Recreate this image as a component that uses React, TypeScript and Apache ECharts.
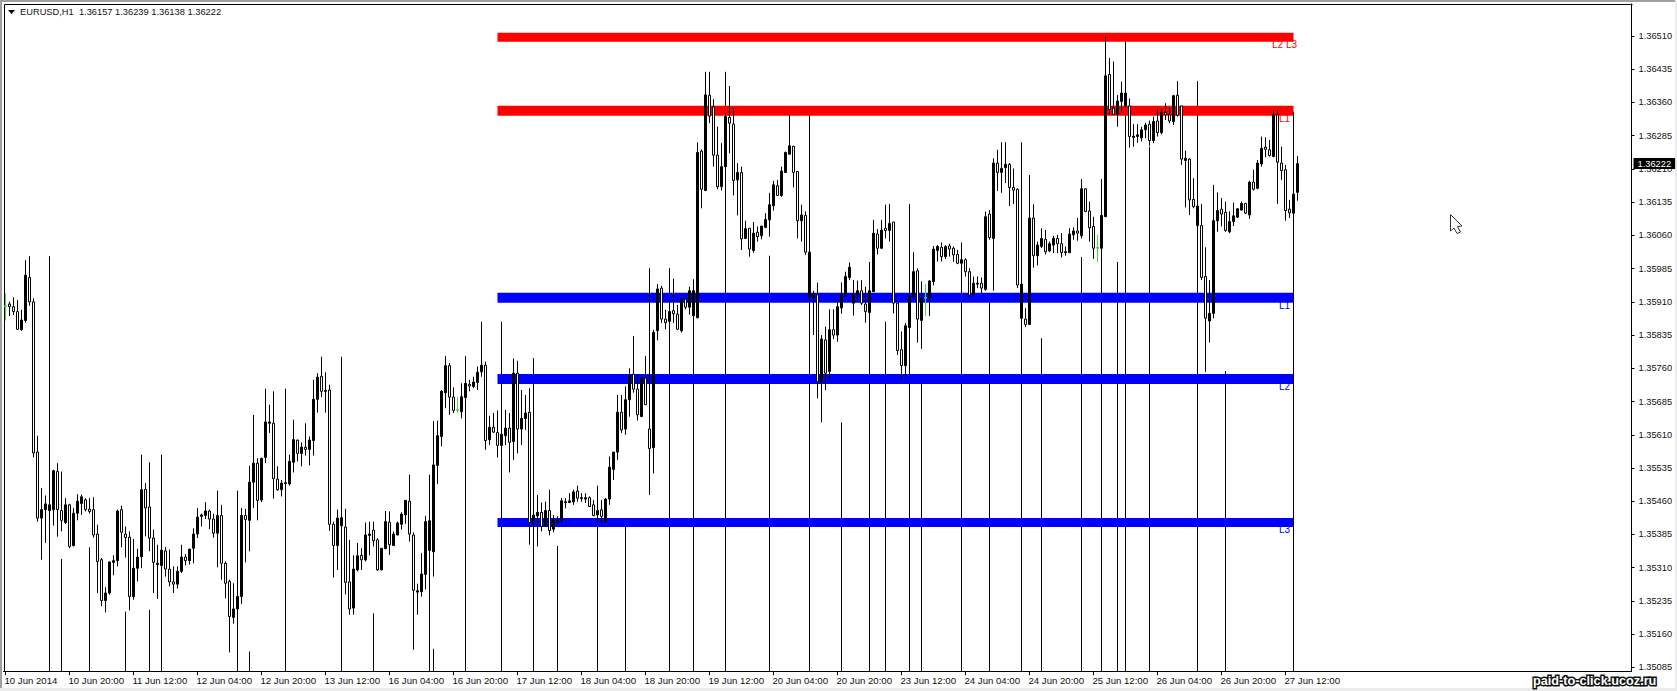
import React, { useEffect, useRef } from "react";
import * as echarts from "echarts";

// All prices are stored as pipettes above 1.00000 (36222 = 1.36222).
const opens = [
35899,35905,35899,35888,35847,35868,35965,35910,
35571,35422,35441,35439,35441,35527,35439,35412,
35452,35360,35433,35455,35463,35442,35441,35386,
35328,35236,35253,35322,35326,35441,35386,35379,
35245,35309,35335,35487,35447,35377,35317,35315,
35348,35307,35278,35273,35302,35334,35326,35354,
35386,35426,35428,35438,35420,35388,35428,35320,
35279,35198,35217,35245,35428,35417,35503,35546,
35463,35559,35636,35636,35510,35486,35500,35499,
35548,35598,35568,35582,35577,35597,35690,35742,
35708,35711,35408,35360,35405,35402,35278,35219,
35305,35338,35328,35383,35395,35373,35305,35353,
35413,35360,35384,35408,35429,35460,35384,35255,
35256,35295,35349,35346,35541,35606,35705,35766,
35695,35667,35662,35694,35724,35719,35728,35752,
35767,35599,35627,35615,35586,35608,35625,35595,
35749,35623,35647,35661,35412,35427,35435,35405,
35439,35397,35414,35418,35457,35457,35459,35483,
35466,35465,35468,35452,35429,35441,35414,35465,
35532,35571,35661,35623,35689,35747,35713,35651,
35738,35623,35581,35845,35941,35871,35866,35890,
35882,35845,35916,35898,35879,35874,36250,36161,
36376,36350,36241,36170,36215,36326,36311,36185,
36202,36053,36076,36026,36067,36059,36078,36095,
36127,36172,36150,36202,36243,36261,36204,36093,
36105,35922,35918,35926,35730,35824,35753,35847,
35835,35896,35926,35965,35907,35926,35935,35905,
35886,35933,36063,36031,36076,36071,36090,35907,
35802,35766,35852,35922,35980,35868,35920,35918,
35956,36026,36033,36012,36036,36031,36017,35997,
36005,35978,35926,35950,35952,35938,36108,36053,
36223,36202,36213,36220,36168,36164,35873,35871,
35859,36099,36014,36035,36051,36025,36038,36053,
36041,36021,36021,36061,36070,36059,36165,36115,
36080,36033,36031,36102,36423,36347,36333,36362,
36352,36352,36281,36283,36280,36298,36311,36274,
36318,36292,36337,36332,36317,36376,36352,36229,
36232,36141,36082,36082,35967,35867,35884,36093,
36119,36112,36068,36091,36101,36117,36132,36106,
36180,36166,36221,36259,36253,36238,36332,36223,
36208,36119,36110,36157];

const closes = [
35901,35899,35888,35848,35869,35970,35910,35569,
35422,35441,35454,35452,35529,35441,35417,35452,
35358,35433,35460,35470,35441,35437,35384,35324,
35236,35253,35323,35326,35438,35390,35378,35245,
35309,35334,35486,35445,35377,35322,35320,35350,
35307,35278,35273,35302,35334,35326,35352,35386,
35424,35429,35438,35420,35388,35428,35320,35275,
35200,35217,35245,35428,35419,35503,35546,35462,
35557,35639,35639,35511,35486,35501,35502,35550,
35599,35568,35582,35577,35598,35690,35740,35708,
35710,35408,35360,35422,35423,35277,35217,35307,
35337,35328,35384,35386,35371,35305,35354,35414,
35362,35386,35411,35431,35462,35386,35259,35258,
35296,35414,35416,35542,35608,35708,35766,35695,
35665,35665,35696,35726,35720,35729,35751,35767,
35597,35627,35616,35586,35611,35625,35593,35749,
35623,35647,35659,35412,35429,35435,35403,35439,
35394,35418,35418,35461,35459,35461,35481,35467,
35468,35468,35448,35428,35439,35426,35465,35537,
35571,35661,35621,35689,35745,35713,35655,35739,
35678,35579,35841,35939,35871,35863,35888,35883,
35848,35916,35898,35935,35935,36247,36164,36377,
36329,36241,36170,36215,36328,36313,36184,36202,
36052,36075,36029,36065,36057,36081,36096,36129,
36174,36150,36205,36247,36262,36202,36093,36106,
36022,36022,35928,35730,35826,35749,35847,35835,
35899,35926,35967,35988,35928,35935,35907,35888,
35935,36065,36031,36072,36071,36087,35907,35800,
35766,35856,35923,35978,35871,35918,35918,35957,
36029,36035,36012,36035,36029,36016,35997,36005,
35978,35925,35952,35952,35941,36102,36055,36223,
36202,36211,36220,36168,36162,35948,35950,35859,
36099,36014,36038,36053,36023,36041,36053,36041,
36021,36023,36063,36070,36065,36165,36114,36077,
36031,36031,36105,36420,36344,36333,36363,36381,
36381,36283,36284,36287,36298,36309,36274,36317,
36292,36337,36332,36318,36375,36331,36232,36234,
36140,36125,36126,35965,35873,35884,36093,36116,
36108,36071,36091,36104,36120,36132,36110,36180,
36164,36223,36256,36254,36240,36332,36225,36206,
36116,36111,36153,36222];

const highs = [
35929,35910,35920,35914,35892,36004,36013,35918,
35608,35490,35473,35460,35531,35546,35527,35467,
35454,35445,35476,35475,35467,35467,35469,35407,
35332,35266,35324,35338,35441,35450,35403,35392,
35375,35353,35565,35501,35548,35396,35362,35362,
35357,35351,35313,35313,35362,35341,35352,35399,
35445,35432,35458,35441,35432,35484,35452,35324,
35283,35275,35257,35445,35443,35540,35655,35557,
35557,35714,35678,35708,35539,35508,35505,35565,
35644,35599,35593,35636,35606,35734,35749,35786,
35751,35723,35414,35441,35433,35443,35373,35338,
35366,35354,35412,35414,35414,35377,35354,35438,
35437,35392,35414,35435,35463,35520,35390,35274,
35343,35427,35425,35641,35642,35711,35788,35772,
35717,35696,35726,35764,35734,35741,35764,35865,
35775,35653,35659,35665,35644,35666,35659,35782,
35777,35711,35700,35715,35459,35474,35457,35459,
35486,35429,35426,35467,35467,35478,35486,35495,
35478,35478,35471,35463,35459,35463,35467,35561,
35571,35700,35700,35719,35760,35833,35745,35741,
35788,35986,35847,35950,35946,35892,35914,35962,
35903,35918,35918,35944,35941,36270,36254,36429,
36429,36367,36305,36268,36335,36397,36347,36223,
36215,36093,36076,36090,36080,36081,36110,36156,
36183,36185,36215,36249,36332,36262,36204,36129,
36114,36027,35935,35953,35835,35854,35893,35893,
35914,35954,35978,35999,35959,35958,35959,35944,
35952,36095,36074,36095,36129,36131,36090,35907,
35843,35862,35959,36022,35986,35956,35950,35959,
36036,36038,36044,36038,36041,36035,36027,36020,
36008,35986,35967,35967,35965,36114,36117,36234,
36253,36270,36270,36223,36211,36166,35956,35896,
36196,36130,36046,36076,36072,36046,36059,36061,
36065,36035,36076,36078,36099,36187,36166,36136,
36102,36061,36110,36508,36460,36452,36377,36407,
36396,36369,36311,36311,36305,36314,36319,36328,
36344,36344,36358,36347,36377,36408,36352,36251,
36234,36189,36136,36131,36033,35959,36174,36157,
36144,36136,36114,36134,36121,36136,36132,36183,
36208,36230,36283,36281,36275,36343,36343,36260,
36219,36140,36162,36239];

const lows = [
35868,35878,35880,35847,35845,35863,35901,35559,
35414,35328,35366,35437,35405,35380,35392,35409,
35354,35358,35417,35429,35437,35432,35378,35253,
35223,35209,35249,35293,35313,35356,35333,35214,
35238,35279,35309,35381,35347,35253,35240,35294,
35290,35268,35253,35263,35298,35315,35317,35320,
35377,35403,35420,35397,35378,35311,35283,35241,
35119,35184,35211,35228,35322,35347,35445,35417,
35458,35546,35614,35466,35484,35471,35497,35495,
35525,35550,35539,35563,35541,35563,35660,35695,
35660,35393,35288,35305,35399,35250,35204,35204,
35302,35305,35324,35338,35358,35303,35305,35354,
35339,35360,35383,35396,35409,35369,35125,35204,
35245,35261,35343,35290,35499,35584,35670,35655,
35659,35659,35647,35689,35708,35715,35711,35741,
35576,35587,35614,35559,35580,35587,35525,35553,
35568,35587,35621,35362,35380,35358,35392,35407,
35383,35390,35407,35411,35444,35456,35452,35459,
35459,35456,35448,35426,35411,35411,35411,35452,
35508,35553,35614,35610,35651,35705,35642,35651,
35678,35474,35523,35823,35862,35848,35850,35862,
35847,35841,35893,35881,35877,35873,36121,36161,
36313,36215,36164,36161,36211,36245,36150,36105,
36027,36052,36012,36021,36046,36051,36076,36057,
36116,36150,36147,36202,36243,36168,36053,36046,
36016,35914,35835,35692,35638,35711,35734,35826,
35820,35883,35922,35959,35879,35914,35903,35863,
35884,35933,36017,36029,36053,36046,35884,35790,
35734,35741,35847,35920,35818,35804,35878,35878,
35947,36001,36001,36007,36012,36000,35995,35990,
35967,35920,35926,35941,35929,35935,36050,35935,
36160,36156,36178,36126,36131,35941,35869,35853,
35858,35987,35992,36031,36017,36022,36020,36020,
36010,36014,36021,36050,36048,36053,36112,36046,
36007,35999,36027,36102,36332,36332,36305,36339,
36347,36258,36260,36269,36272,36279,36262,36268,
36283,36288,36320,36313,36309,36328,36219,36123,
36106,36121,36076,35959,35752,35818,35873,36068,
36080,36068,36065,36081,36099,36116,36108,36097,
36161,36164,36215,36236,36238,36236,36131,36185,
36093,36099,36106,36138];

// Bars whose line runs all the way down to the bottom of the window.
const spikeBars = [11,14,21,30,36,39,58,61,70,84,92,106,107,115,124,132,138,148,155,166,172,180,191,201,209,216,220,226,229,239,246,254,259,269,274,278,280,286,298,305,322];
const spikeTops = [36013,35330,35356,35211,35215,35565,35484,35121,35714,35786,35207,35520,35127,35788,35865,35783,35359,35495,35414,35986,35961,36429,36014,36332,35638,36000,35865,36131,35741,36044,35918,36270,35828,36011,36187,36000,36508,36260,36408,35754,36339];

const greenBars = [0, 113, 230, 273];

const redLevels = [36507, 36341];
const blueLevels = [35919, 35736, 35412];
const levelFirstBar = 123;
const levelLastBar = 322;

const tickLabels = [
  "10 Jun 2014","10 Jun 20:00","11 Jun 12:00","12 Jun 04:00","12 Jun 20:00","13 Jun 12:00","16 Jun 04:00",
  "16 Jun 20:00","17 Jun 12:00","18 Jun 04:00","18 Jun 20:00","19 Jun 12:00","20 Jun 04:00","20 Jun 20:00",
  "23 Jun 12:00","24 Jun 04:00","24 Jun 20:00","25 Jun 12:00","26 Jun 04:00","26 Jun 20:00","27 Jun 12:00",
];
const priceTicks = [
  1.3651,1.36435,1.3636,1.36285,1.3621,1.36135,1.3606,1.35985,1.3591,1.35835,
  1.3576,1.35685,1.3561,1.35535,1.3546,1.35385,1.3531,1.35235,1.3516,1.35085,
];
const lastPrice = 1.36222;
const headerText = "EURUSD,H1  1.36157 1.36239 1.36138 1.36222";
const watermark = "paid-to-click.ucoz.ru";

const BARS_IN_WINDOW = 407;
const TICK_EVERY = 16;
const AXIS_MIN = 1.35077;
const AXIS_MAX = 1.36582;
const FONT = '"Liberation Sans", Arial, sans-serif';

const toPrice = (p: number) => 1 + p / 100000;

export default function App() {
  const ref = useRef<HTMLDivElement>(null);
  useEffect(() => {
    const chart = echarts.init(ref.current!, undefined, { renderer: "svg" });
    const categories = Array.from({ length: BARS_IN_WINDOW }, (_, i) =>
      i % TICK_EVERY === 0 ? tickLabels[i / TICK_EVERY] ?? "" : ""
    );
    const isLabelled = (i: number) => i % TICK_EVERY === 0 && i / TICK_EVERY < tickLabels.length;

    const candles = opens.map((o, i) => {
      const value = [toPrice(o), toPrice(closes[i]), toPrice(lows[i]), toPrice(highs[i])];
      return greenBars.includes(i)
        ? { value, itemStyle: { color: "#4fd34f", color0: "#4fd34f", borderColor: "#4fd34f", borderColor0: "#4fd34f" } }
        : { value };
    });
    const spikes = categories.map((_, i) => {
      const k = spikeBars.indexOf(i);
      if (k < 0) return ["-", "-", "-", "-"];
      const top = toPrice(spikeTops[k]);
      return [top, top, AXIS_MIN, top];
    });
    const level = (price: number, color: string, width: number, extra: object = {}) => ({
      type: "line",
      z: 2,
      silent: true,
      showSymbol: false,
      symbol: "none",
      connectNulls: false,
      lineStyle: { color, width, cap: "butt" },
      data: categories.map((_, i) => (i >= levelFirstBar && i <= levelLastBar ? toPrice(price) : null)),
      ...extra,
    });

    chart.setOption({
      animation: false,
      backgroundColor: "#ffffff",
      title: {
        text: headerText,
        left: 20,
        top: 7,
        padding: 0,
        textStyle: { fontFamily: FONT, fontSize: 9.3, fontWeight: "normal", color: "#111111" },
      },
      grid: { left: 3.5, top: 4, width: 1628, height: 667, containLabel: false },
      xAxis: {
        type: "category",
        data: categories,
        boundaryGap: true,
        axisLine: { show: true, onZero: false, lineStyle: { color: "#000", width: 1 } },
        axisTick: { show: true, length: 4, alignWithLabel: true, interval: (i: number) => isLabelled(i), lineStyle: { color: "#000" } },
        axisLabel: {
          show: true,
          interval: (i: number) => isLabelled(i),
          align: "left",
          margin: 4,
          padding: [0, 0, 0, -1],
          color: "#111111",
          fontFamily: FONT,
          fontSize: 9.6,
          hideOverlap: false,
        },
        splitLine: { show: false },
      },
      yAxis: {
        type: "value",
        position: "right",
        min: AXIS_MIN,
        max: AXIS_MAX,
        scale: true,
        axisLine: { show: true, lineStyle: { color: "#000", width: 1 } },
        axisTick: { show: true, length: 3, customValues: priceTicks, lineStyle: { color: "#000" } },
        axisLabel: {
          show: true,
          customValues: priceTicks,
          margin: 7,
          padding: [2, 0, 0, 0],
          color: "#111111",
          fontFamily: FONT,
          fontSize: 9.3,
          formatter: (v: number) => v.toFixed(5),
        },
        splitLine: { show: false },
      },
      series: [
        {
          type: "candlestick",
          name: "spikes",
          z: 1,
          silent: true,
          barWidth: 1,
          itemStyle: { color: "#000", color0: "#000", borderColor: "#000", borderColor0: "#000", borderWidth: 1 },
          data: spikes,
        },
        level(redLevels[0], "#ff0000", 9),
        level(redLevels[1], "#ff0000", 10),
        level(blueLevels[0], "#0000ff", 10),
        level(blueLevels[1], "#0000ff", 10),
        level(blueLevels[2], "#0000ff", 9, {
          markLine: {
            silent: true,
            symbol: "none",
            precision: 5,
            z: 10,
            lineStyle: { color: "transparent", width: 1, type: "solid" },
            label: {
              show: true,
              position: "end",
              distance: 2,
              backgroundColor: "#000",
              color: "#fff",
              fontFamily: FONT,
              fontSize: 9.3,
              padding: [1, 4, 1, 4],
              formatter: () => lastPrice.toFixed(5),
            },
            data: [{ yAxis: lastPrice }],
          },
        }),
        {
          type: "candlestick",
          name: "EURUSD,H1",
          z: 3,
          silent: true,
          barWidth: 2,
          itemStyle: { color: "#000", color0: "#fff", borderColor: "#000", borderColor0: "#000", borderWidth: 1 },
          data: candles,
        },
      ],
      graphic: [
        { type: "rect", silent: true, shape: { x: 0, y: 0, width: 1677, height: 2 }, style: { fill: "#a0a0a0" } },
        { type: "rect", silent: true, shape: { x: 0, y: 0, width: 2, height: 688 }, style: { fill: "#a0a0a0" } },
        { type: "rect", silent: true, shape: { x: 0, y: 688, width: 1677, height: 3 }, style: { fill: "#ececec" } },
        { type: "rect", silent: true, shape: { x: 1675, y: 0, width: 2, height: 691 }, style: { fill: "#ececec" } },
        { type: "line", silent: true, shape: { x1: 4.5, y1: 4.5, x2: 1632.5, y2: 4.5 }, style: { stroke: "#000", lineWidth: 1 } },
        { type: "line", silent: true, shape: { x1: 4.5, y1: 4.5, x2: 4.5, y2: 671.5 }, style: { stroke: "#000", lineWidth: 1 } },
        { type: "polygon", silent: true, shape: { points: [[8, 10], [15, 10], [11.5, 14]] }, style: { fill: "#000" } },
        // Level captions sit under the thick lines, as in the terminal window.
        { type: "text", silent: true, x: 1272, y: 44, style: { text: "L2 L3", fill: "#ff0000", font: `10px ${FONT}`, textVerticalAlign: "middle" } },
        { type: "text", silent: true, x: 1279, y: 118, style: { text: "L1", fill: "#ff0000", font: `10px ${FONT}`, textVerticalAlign: "middle" } },
        { type: "text", silent: true, x: 1279, y: 305, style: { text: "L1", fill: "#0000ff", font: `10px ${FONT}`, textVerticalAlign: "middle" } },
        { type: "text", silent: true, x: 1279, y: 386, style: { text: "L2", fill: "#0000ff", font: `10px ${FONT}`, textVerticalAlign: "middle" } },
        { type: "text", silent: true, x: 1279, y: 529, style: { text: "L3", fill: "#0000ff", font: `10px ${FONT}`, textVerticalAlign: "middle" } },
        // Mouse pointer
        {
          type: "polygon",
          silent: true,
          shape: { points: [[1450.5, 214.5], [1450.5, 231], [1454, 228], [1457, 233.5], [1460.5, 232], [1457.5, 226.5], [1462, 226]] },
          style: { fill: "#fff", stroke: "#333", lineWidth: 1 },
        },
        // Watermark
        {
          type: "text",
          silent: true,
          x: 1533,
          y: 681,
          style: {
            text: watermark,
            fill: "#ffffff",
            stroke: "#111111",
            lineWidth: 3,
            font: `bold 12.7px ${FONT}`,
            textVerticalAlign: "middle",
          },
        },
      ],
    });
    return () => chart.dispose();
  }, []);
  return <div ref={ref} style={{ position: "absolute", left: 0, top: 0, width: 1677, height: 691 }} />;
}
